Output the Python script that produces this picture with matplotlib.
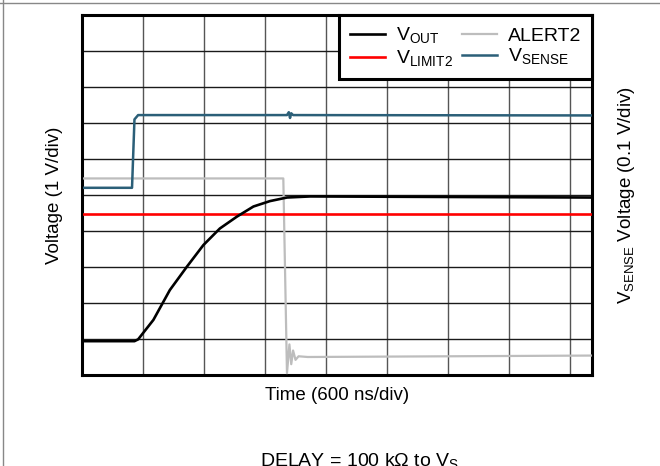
import matplotlib
matplotlib.use("Agg")
import matplotlib.pyplot as plt
from matplotlib.lines import Line2D

plt.rcParams["font.family"] = ["Liberation Sans", "DejaVu Sans"]
plt.rcParams["mathtext.fontset"] = "custom"
plt.rcParams["mathtext.rm"] = "Liberation Sans"

# traces, in scope divisions (x: 600 ns/div, y: 1 V/div)
vout_t = [0, 0.86, 0.92, 1.17, 1.44, 1.72, 1.99, 2.26, 2.54, 2.81, 3.08, 3.36, 3.74, 8.36]
vout_v = [0.94, 0.94, 0.99, 1.53, 2.36, 3.01, 3.61, 4.07, 4.40, 4.68, 4.83, 4.93, 4.96, 4.93]

vlimit_t = [0, 8.36]
vlimit_v = [4.47, 4.47]

alert_t = [0, 3.3, 3.36, 3.4, 3.43, 3.46, 3.5, 3.55, 3.7, 8.36]
alert_v = [5.46, 5.46, 0.05, 0.85, 0.3, 0.68, 0.42, 0.52, 0.5, 0.54]

vsense_t = [0, 0.82, 0.86, 0.92, 3.36, 3.39, 3.41, 3.43, 3.46, 8.36]
vsense_v = [5.2, 5.2, 7.1, 7.22, 7.22, 7.3, 7.14, 7.27, 7.22, 7.21]

labels = [r"V$_\mathregular{OUT}$", r"V$_\mathregular{LIMIT2}$", "ALERT2", r"V$_\mathregular{SENSE}$"]

fig = plt.figure(figsize=(6.6, 4.66), dpi=100)
ax = fig.add_axes([82 / 660, 1 - 375 / 466, 510 / 660, 360 / 466])

l1, = ax.plot(vout_t, vout_v, color="black", lw=1.9, zorder=5)
l2, = ax.plot(vlimit_t, vlimit_v, color="#ff0000", lw=1.9, zorder=4)
l3, = ax.plot(alert_t, alert_v, color="#bdbdbd", lw=1.6, zorder=3)
l4, = ax.plot(vsense_t, vsense_v, color="#2b5f78", lw=1.8, zorder=3)

ax.set_xlim(0, 8.36)
ax.set_ylim(0, 10)
for x in range(1, 9):
    ax.axvline(x, color="#555555", lw=1.0, zorder=1)
for y in range(1, 10):
    ax.axhline(y, color="#1a1a1a", lw=1.0, zorder=1)
ax.set_xticks([])
ax.set_yticks([])
for s in ax.spines.values():
    s.set_linewidth(2.2)

ax.set_xlabel("Time (600 ns/div)", fontsize=13.5, labelpad=9)
ax.set_ylabel("Voltage (1 V/div)", fontsize=13.5, labelpad=14)
ax2 = ax.twinx()
ax2.set_yticks([])
ax2.set_ylabel(r"V$_\mathregular{SENSE}$ Voltage (0.1 V/div)", fontsize=13.5, labelpad=17)

leg = ax.legend([l1, l2, l3, l4], labels, ncol=2, loc="upper right", fontsize=14,
                borderaxespad=0, fancybox=False, framealpha=1, edgecolor="black",
                handlelength=1.8, labelspacing=0.12, columnspacing=0.5,
                handletextpad=0.55, borderpad=0.55)
leg.get_frame().set_linewidth(2.2)
leg.set_zorder(10)

fig.text(0.545, 1 - 452 / 466, r"DELAY = 100 k$\Omega$ to V$_\mathregular{S}$",
         ha="center", va="top", fontsize=14)

fig.add_artist(Line2D([0, 1], [1 - 3 / 466, 1 - 3 / 466], color="#888888", lw=1))
fig.add_artist(Line2D([3 / 660, 3 / 660], [0, 1], color="#888888", lw=1))

fig.savefig("out.png", dpi=100)
